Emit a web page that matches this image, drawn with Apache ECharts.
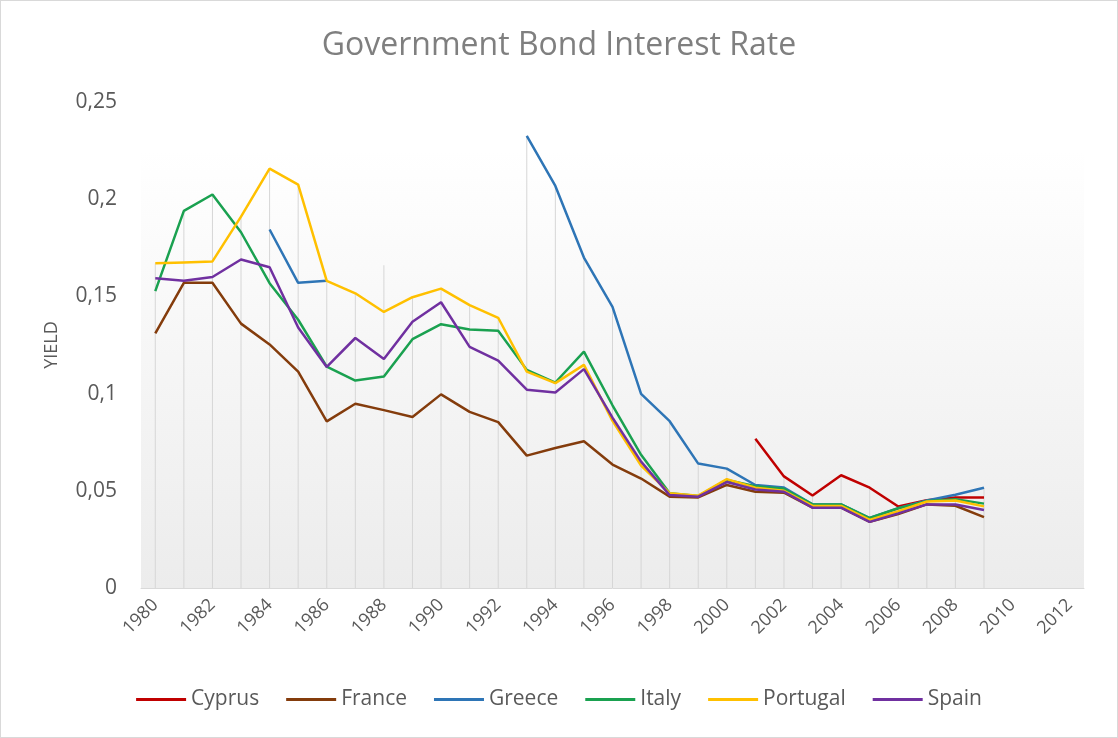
<!DOCTYPE html>
<html>
<head>
<meta charset="utf-8">
<script src="https://cdn.jsdelivr.net/npm/echarts@6/dist/echarts.min.js"></script>
<style>
  html, body { margin: 0; padding: 0; background: #fff; }
  #chart { width: 1116px; height: 736px; border: 1px solid #d9d9d9; }
</style>
</head>
<body>
<div id="chart"></div>
<script>
// years on the category axis (1980 - 2012), data stops at 2009
const years = [];
for (let y = 1980; y <= 2012; y++) years.push(String(y));

const countries = ["Cyprus", "France", "Greece", "Italy", "Portugal", "Spain"];
const colors = ["#c00000", "#843c0c", "#2e75b6", "#1aa150", "#ffc000", "#7030a0"];

const cyprus = [null, null, null, null, null, null, null, null, null, null,
  null, null, null, null, null, null, null, null, null, null,
  null, 0.0768, 0.0574, 0.0476, 0.058, 0.0516, 0.0419, 0.0452, 0.0465, 0.0465];
const france = [0.131, 0.157, 0.157, 0.136, 0.1253, 0.1113, 0.0857, 0.0948, 0.0915, 0.088,
  0.0996, 0.0906, 0.0853, 0.0681, 0.072, 0.0755, 0.0635, 0.0563, 0.047, 0.0466,
  0.053, 0.0495, 0.049, 0.0413, 0.0413, 0.034, 0.038, 0.043, 0.0423, 0.0365];
const greece = [null, null, null, null, 0.1844, 0.157, 0.158, null, 0.166, null,
  null, null, null, 0.2326, 0.2068, 0.17, 0.1446, 0.0999, 0.0858, 0.064,
  0.0614, 0.053, 0.0517, 0.043, 0.043, 0.036, 0.041, 0.045, 0.048, 0.0516];
const italy = [0.1527, 0.194, 0.2024, 0.183, 0.1568, 0.138, 0.1139, 0.1067, 0.1088, 0.128,
  0.1357, 0.133, 0.1323, 0.1122, 0.1057, 0.1216, 0.094, 0.0685, 0.0488, 0.0473,
  0.0556, 0.0524, 0.051, 0.043, 0.043, 0.036, 0.041, 0.0447, 0.0456, 0.0434];
const portugal = [0.167, 0.1675, 0.168, 0.191, 0.2157, 0.2075, 0.158, 0.1516, 0.142, 0.1496,
  0.154, 0.1455, 0.139, 0.1113, 0.1054, 0.1148, 0.086, 0.063, 0.0488, 0.0475,
  0.056, 0.0516, 0.05, 0.0422, 0.0422, 0.035, 0.0395, 0.0445, 0.045, 0.042];
const spain = [0.1593, 0.158, 0.16, 0.169, 0.165, 0.134, 0.1137, 0.1286, 0.1178, 0.137,
  0.147, 0.124, 0.117, 0.102, 0.1006, 0.1126, 0.0876, 0.065, 0.0478, 0.047,
  0.0545, 0.0507, 0.0495, 0.0413, 0.0413, 0.034, 0.0384, 0.043, 0.043, 0.0401];

const yTicks = [0, 0.05, 0.1, 0.15, 0.2, 0.25];

const allSeries = [cyprus, france, greece, italy, portugal, spain];

// drop lines: from the highest value of each year down to the axis
let drop = [];
for (let i = 0; i < years.length; i++) {
  let m = null;
  allSeries.forEach(s => {
    let v = s[i];
    if (v != null && (m == null || v > m)) m = v;
  });
  drop.push(m);
}

const font = "Open Sans";
let series_data = [{
  name: "drop",
  type: "bar",
  data: drop,
  barWidth: 1,
  silent: true,
  z: 1,
  itemStyle: { color: "#d6d6d6" }
}];
countries.forEach((c, i) => {
  series_data.push({
    name: c,
    type: "line",
    data: allSeries[i],
    showSymbol: false,
    symbol: "none",
    connectNulls: false,
    z: 3,
    lineStyle: { width: 2.5, color: colors[i] },
    itemStyle: { color: colors[i] }
  });
});

let option = {
  animation: false,
  backgroundColor: "#ffffff",
  title: {
    text: "Government Bond Interest Rate",
    left: "center",
    top: 24,
    textStyle: { fontFamily: font, fontSize: 32, fontWeight: "normal", color: "#7f7f7f" }
  },
  legend: {
    data: countries.map(c => ({ name: c, icon: "rect" })),
    bottom: 22,
    left: "center",
    itemWidth: 50,
    itemHeight: 3,
    itemGap: 27,
    textStyle: { fontFamily: font, fontSize: 21, color: "#595959" }
  },
  grid: {
    left: 140,
    right: 33,
    top: 101,
    bottom: 149,
    show: true,
    borderWidth: 0,
    backgroundColor: new echarts.graphic.LinearGradient(0, 0, 0, 1, [
      { offset: 0, color: "#ffffff" },
      { offset: 0.1, color: "#ffffff" },
      { offset: 1, color: "#ececec" }
    ])
  },
  xAxis: {
    type: "category",
    data: years,
    boundaryGap: true,
    axisLine: { lineStyle: { color: "#d9d9d9", width: 1 } },
    axisTick: { show: false },
    axisLabel: {
      interval: 1,
      rotate: 45,
      margin: 14,
      fontFamily: font,
      fontSize: 18,
      color: "#595959"
    },
    splitLine: { show: false }
  },
  yAxis: {
    type: "value",
    min: yTicks[0],
    max: yTicks[yTicks.length - 1],
    interval: 0.05,
    name: "YIELD",
    nameLocation: "middle",
    nameGap: 80,
    nameTextStyle: { fontFamily: font, fontSize: 18, color: "#595959" },
    axisLine: { show: false },
    axisTick: { show: false },
    splitLine: { show: false },
    axisLabel: {
      margin: 24,
      fontFamily: font,
      fontSize: 21,
      color: "#595959",
      formatter: v => String(+v.toFixed(2)).replace(".", ",")
    }
  },
  series: series_data
};

let chart = echarts.init(document.getElementById("chart"));
chart.setOption(option);
</script>
</body>
</html>
